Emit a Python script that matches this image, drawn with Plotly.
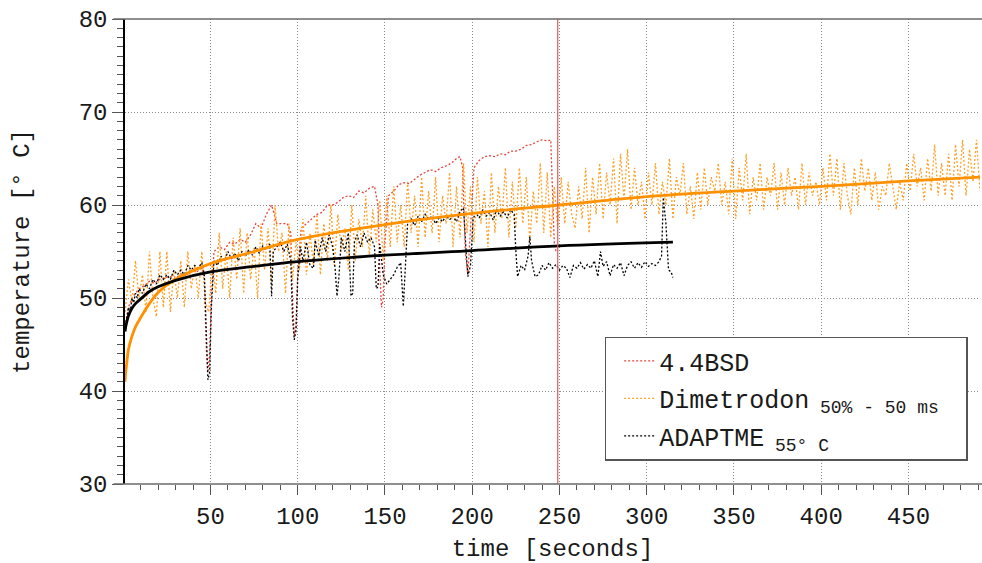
import plotly.graph_objects as go

# ---------------- data ----------------
bsd_time = [1, 3, 5, 7, 9, 12, 15, 18, 21, 24, 27, 30, 33, 36, 39, 42, 45, 46.5, 47.5, 48.5,
            49.5, 50.5, 52, 55, 58, 61, 64, 67, 70, 73, 76, 79, 82, 85, 88, 91, 94, 96, 97, 98,
            99, 100, 102, 105, 108, 111, 114, 117, 120, 123, 126, 129, 132, 135, 138, 141, 144,
            146, 147, 148, 149, 150, 152, 155, 158, 161, 164, 167, 170, 173, 176, 179, 182, 185,
            188, 191, 193, 194.5, 196, 197.5, 199, 201, 204, 207, 210, 213, 216, 219, 222, 225,
            228, 231, 234, 237, 240, 243, 245, 246, 247, 248]
bsd_temp = [47, 49, 50, 50.5, 51, 51.3, 51.8, 51.6, 52, 52.2, 52.3, 52.1, 52.6, 52.4, 53, 52.8,
            53.2, 52, 45, 42, 44, 50, 55, 55.5, 55.2, 56, 55.8, 56.3, 56, 56.8, 58, 57.5, 59, 60,
            58, 58, 58, 57, 50, 46, 47, 53, 57.5, 58, 58.5, 59, 59.2, 60, 60, 60.3, 60.8, 61, 60.8,
            61.5, 61.3, 61.8, 62, 60, 53, 49, 50, 56, 61, 61.5, 62.2, 62.4, 62.3, 62.8, 63.2, 63.5,
            63.8, 63.6, 64, 64.2, 64.5, 65, 65.2, 64, 55, 52.5, 57, 64, 64.8, 65.2, 65.3, 65.2,
            65.5, 65.4, 65.8, 65.8, 66, 66.4, 66.5, 66.8, 67, 66.9, 67, 62, 56, 55]

dimetrodon_start = 1
dimetrodon_step = 2
dimetrodon_temp = [
    48.5, 52, 49.5, 54, 50,
    52.5, 48.5, 55, 50, 48,
    55, 49, 55, 48.5, 53,
    50, 54, 49, 55, 51,
    53.5, 50, 55, 49.5, 48.5,
    54, 50.5, 57, 51, 55,
    50, 56.5, 52, 57.5, 50.5,
    57, 52, 55.5, 50, 58,
    53, 57.5, 51.5, 60, 55,
    57, 50.5, 58, 52, 56,
    53, 58.5, 52.5, 57, 53.5,
    59, 52.5, 58, 54, 60,
    53.5, 59, 55, 57.5, 53,
    60, 54, 58.5, 55.5, 61,
    54.5, 59.5, 56, 60.5, 54,
    61, 55.5, 62, 56, 60,
    55.5, 62.5, 57, 61, 55.5,
    63, 56.5, 61.5, 57, 63,
    56, 61, 58, 63.5, 55.5,
    62, 56.5, 64.5, 57, 62,
    56, 63, 58, 61.5, 55.5,
    63.5, 57, 62, 58.5, 64,
    56.5, 62.5, 57.5, 64, 58,
    63, 56, 61.5, 58, 64.5,
    57, 63.5, 56.5, 62, 57.5,
    63, 58, 62.5, 59, 57.5,
    62, 58.5, 64, 57, 63,
    59, 64.5, 58.5, 63.5, 60,
    65, 58, 65.5, 60.5, 66,
    59.5, 64, 60, 62.5, 58.5,
    63.5, 60, 64.5, 59, 62.5,
    60, 65, 58.5, 63, 61,
    64.5, 59, 62, 58.5, 63.5,
    59.5, 64, 60, 63, 61.5,
    64.5, 60, 62.5, 59, 65,
    58.5, 64, 60.5, 65.5, 59,
    63, 60.5, 64.5, 59.5, 63,
    61, 64.5, 59.5, 63.5, 60,
    64, 61, 63, 59.5, 64.5,
    60, 63.5, 61, 62.5, 60,
    64, 60.5, 65.5, 61, 65,
    59.5, 64.5, 61, 59, 64,
    60, 65, 61.5, 64, 60.5,
    63.5, 59.5, 62, 61, 64.5,
    62, 59.5, 62.5, 60.5, 64.5,
    61.5, 65.5, 62, 64, 60.5,
    65, 61.5, 66.5, 61, 64.5,
    61, 65.5, 60.5, 66.5, 62,
    67, 61, 66, 62.5, 67,
    61.5]
dimetrodon_time = [dimetrodon_start + dimetrodon_step * i for i in range(len(dimetrodon_temp))]

adaptme_time = [1, 2, 3, 4, 5, 6, 7, 8, 9, 11, 13, 15, 17, 19, 21, 23, 25, 27, 29, 31, 33, 35,
                37, 39, 41, 43, 45, 46.5, 47.5, 48.5, 49.5, 50.5, 52, 54, 56, 58, 60, 62, 64, 66,
                68, 70, 72, 74, 76, 78, 80, 82, 84, 85, 86, 88, 90, 92, 94, 96, 97, 98, 99, 100,
                101.5, 103, 105, 107, 109, 110, 112, 114, 116, 118, 120, 121.5, 122.5, 123.5, 125,
                127, 129, 130.5, 131.5, 132.5, 134, 136, 138, 140, 142, 144, 145, 146, 147, 149,
                151, 153, 155, 157, 159, 160.5, 162, 163, 165, 167, 169, 171, 173, 175, 177, 179,
                181, 183, 185, 187, 189, 191, 193, 195, 196.5, 197.5, 199, 200.5, 202, 204, 206,
                208, 210, 212, 214, 216, 218, 220, 222, 224, 225, 226, 228, 230, 232, 233, 234,
                236, 238, 240, 242, 244, 246, 248, 250, 252, 254, 256, 258, 260, 262, 264, 266,
                268, 270, 272, 273.5, 275, 277, 279, 281, 283, 285, 287, 289, 291, 293, 295, 297,
                299, 301, 303, 305, 307, 308.5, 309.5, 311, 312.5, 314, 315]
adaptme_temp = [46.5, 48, 49, 48.5, 50, 49.5, 50.5, 50, 51, 50.5, 51.5, 51, 52, 51.5, 52.5, 52,
                52.5, 52, 53, 52.5, 53, 52.5, 53.5, 53, 53.5, 53.2, 53.8, 52.5, 46, 41.2, 42, 49,
                54, 53.5, 54.5, 54, 55, 54.2, 54.8, 54, 55, 54.5, 55.2, 54.6, 55.5, 54.8, 55.6,
                55.2, 55.8, 50.2, 55, 55.5, 56, 55, 55.8, 54, 48, 45.5, 46.5, 52, 55.5, 54, 56,
                53.5, 53.2, 56.2, 54.5, 56.5, 55, 56.8, 55.5, 53, 50.2, 52, 56.5, 55, 57, 50.2,
                50.5, 56, 56.8, 55.5, 57, 56, 56.5, 55.5, 51, 51.2, 55.8, 52.5, 51.5, 52, 52.5,
                53.3, 53.8, 49.1, 55, 58.2, 58.5, 57.8, 58.8, 58.2, 59, 58.5, 58.8, 58, 58.6,
                58.2, 58.9, 58.4, 58.8, 58.2, 59.3, 59.7, 55, 52.3, 53.5, 58.5, 59.2, 58.6, 59.5,
                58.8, 59.2, 58.4, 59.5, 58.8, 59.3, 58.6, 59.5, 59, 55, 52.3, 53.5, 53, 54.5,
                56.6, 54, 52.3, 52.5, 53.5, 53, 53.8, 53.2, 53.6, 53.0, 53.5, 53.2, 52.2, 53.5,
                53.2, 53.8, 53.1, 53.6, 53.2, 54, 52.3, 55, 53.4, 53.9, 52.4, 53.6, 53.2, 53.8,
                52.4, 53.5, 53.9, 53.2, 53.8, 53.3, 53.9, 53.4, 53.7, 53.5, 53.9, 54.5, 60.8,
                58, 53, 52.8, 52.2]

# fitted trend curves (read at selected times)
dimetrodon_fit_time = [1, 1.5, 2, 3, 5, 7, 10, 15, 20, 30, 50, 75, 100, 150, 200, 250, 300, 350,
                       400, 450, 491]
dimetrodon_fit_temp = [41, 42.2, 43, 44.5, 45.9, 46.9, 47.9, 49.4, 50.6, 52, 53.7, 55, 56.3,
                       57.9, 59.1, 60.0, 60.9, 61.5, 62.0, 62.6, 63.0]
adaptme_fit_time = [1, 1.5, 2, 3, 5, 7, 10, 15, 20, 30, 50, 75, 100, 150, 200, 250, 315]
adaptme_fit_temp = [46.4, 47.0, 47.4, 48.1, 48.9, 49.4, 49.9, 50.7, 51.2, 51.9, 52.8, 53.4, 53.9,
                    54.6, 55.1, 55.6, 56.0]

marker_time = 249

SUB = "<sub><span style='font-size:18px'>{}</span></sub>"
names = ["4.4BSD",
         "Dimetrodon" + SUB.format(" 50% - 50 ms\u00a0\u00a0"),
         "ADAPTME" + SUB.format(" 55° C")]

x_range = [1, 491]
y_range = [30, 80]

FONT = "Liberation Mono, DejaVu Sans Mono, monospace"
RED = "rgb(228,70,60)"
ORANGE_DOT = "rgb(255,160,40)"
ORANGE = "rgb(255,145,0)"
BLACK = "rgb(0,0,0)"
GRID = "#8a8a8a"

fig = go.Figure()

fig.add_trace(go.Scatter(x=bsd_time, y=bsd_temp, mode="lines", name=names[0],
                         line=dict(color=RED, width=1.3, dash="2px,2px"), legendgroup="a"))
fig.add_trace(go.Scatter(x=dimetrodon_time, y=dimetrodon_temp, mode="lines", name=names[1],
                         line=dict(color=ORANGE_DOT, width=1.3, dash="2px,2px"), legendgroup="b"))
fig.add_trace(go.Scatter(x=adaptme_time, y=adaptme_temp, mode="lines", name=names[2],
                         line=dict(color=BLACK, width=1.3, dash="2px,2px"), legendgroup="c"))
fig.add_trace(go.Scatter(x=dimetrodon_fit_time, y=dimetrodon_fit_temp, mode="lines",
                         name="Dimetrodon fit",
                         line=dict(color=ORANGE, width=2.8, shape="spline", smoothing=1),
                         showlegend=False, hoverinfo="skip"))
fig.add_trace(go.Scatter(x=adaptme_fit_time, y=adaptme_fit_temp, mode="lines",
                         name="ADAPTME fit",
                         line=dict(color=BLACK, width=2.8, shape="spline", smoothing=1),
                         showlegend=False, hoverinfo="skip"))

# red marker line
fig.add_shape(type="line", xref="x", yref="paper", x0=marker_time, x1=marker_time, y0=0, y1=1,
              line=dict(color="rgb(225,90,80)", width=1.2), layer="above")
# top and bottom frame lines (extending slightly left of the y axis)
for yy in (0, 1):
    fig.add_shape(type="line", xref="paper", yref="paper", x0=-0.0135, x1=1.003, y0=yy, y1=yy,
                  line=dict(color="#6a6a6a", width=1.5), layer="above")

fig.update_layout(
    width=982, height=563,
    margin=dict(l=125, r=2, t=19, b=79),
    paper_bgcolor="white", plot_bgcolor="white",
    font=dict(family=FONT, size=24, color="#1a1a1a"),
    showlegend=True,
    legend=dict(x=0.561, y=0.317, xanchor="left", yanchor="top",
                bgcolor="white", bordercolor="#555", borderwidth=1.5,
                font=dict(family=FONT, size=25, color="#1a1a1a"),
                tracegroupgap=2, indentation=13),
)

fig.update_xaxes(
    range=x_range, tickmode="linear", tick0=0, dtick=50,
    ticks="outside", ticklen=10, tickwidth=1.2, tickcolor="#555",
    showline=False, zeroline=False,
    showgrid=True, gridcolor=GRID, griddash="1px,2px", gridwidth=1,
    tickfont=dict(family=FONT, size=24),
    minor=dict(tickmode="linear", tick0=0, dtick=10, ticks="outside", ticklen=5,
               tickwidth=1.2, tickcolor="#555", showgrid=False),
    title=dict(text="time [seconds]", font=dict(family=FONT, size=24), standoff=10),
)
fig.update_yaxes(
    range=y_range, tickmode="linear", tick0=30, dtick=10,
    ticks="outside", ticklen=11, tickwidth=1.2, tickcolor="#555",
    showline=True, linecolor="black", linewidth=1.5, zeroline=False,
    showgrid=True, gridcolor=GRID, griddash="1px,2px", gridwidth=1,
    tickfont=dict(family=FONT, size=24),
    minor=dict(tickmode="linear", tick0=30, dtick=1, ticks="outside", ticklen=6,
               tickwidth=1.2, tickcolor="#555", showgrid=False),
    title=dict(text="temperature [° C]", font=dict(family=FONT, size=24), standoff=42),
)

fig.write_html("out.html", config={"displayModeBar": False},
               post_script="document.body.style.margin='0';")
